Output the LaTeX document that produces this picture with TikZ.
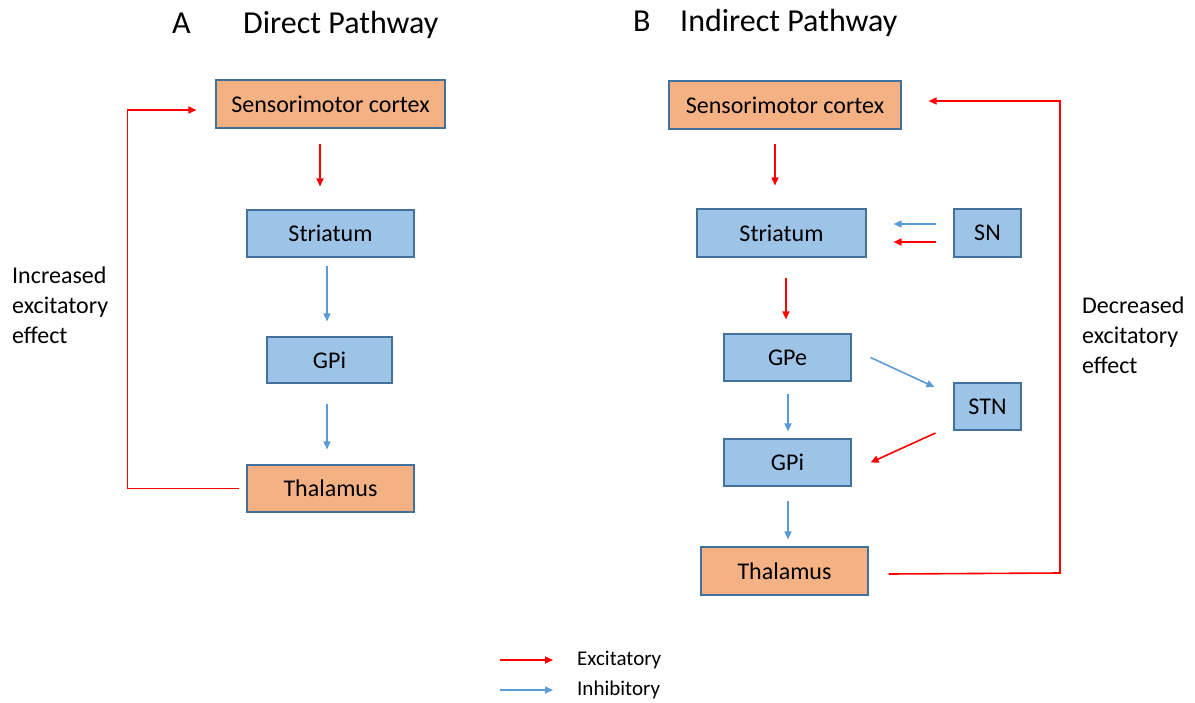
\documentclass[tikz,border=0pt]{standalone}
\usepackage{fontspec}
\setmainfont{Carlito}
\usetikzlibrary{arrows.meta}
\definecolor{boxline}{HTML}{41719C}
\definecolor{orangefill}{HTML}{F4B183}
\definecolor{bluefill}{HTML}{9DC3E6}
\definecolor{inhblue}{HTML}{5B9BD5}
\definecolor{excred}{HTML}{FF0000}
\begin{document}
\begin{tikzpicture}[x=1pt,y=-1pt,
  base/.style={draw=boxline, line width=1.1pt, inner sep=0pt, font=\fontsize{24}{28}\selectfont},
  obox/.style={base, fill=orangefill},
  bbox/.style={base, fill=bluefill},
  exc/.style={draw=excred, line width=1.6pt, -{Triangle[length=8pt,width=7pt]}},
  inh/.style={draw=inhblue, line width=1.6pt, -{Triangle[length=8pt,width=7pt]}},
  title/.style={font=\fontsize{32}{36}\selectfont, inner sep=0pt, anchor=base west},
  note/.style={font=\fontsize{24}{30}\selectfont, align=left, inner sep=0pt},
  legend/.style={font=\fontsize{21}{24}\selectfont, inner sep=0pt, anchor=west}]
\useasboundingbox (0,0) rectangle (1195,702);

% ---------- A: direct pathway ----------
\node[title] (tA) at (172,33.5) {A};
\node[title] (tDirect) at (243,33.5) {Direct Pathway};

\node[obox, minimum width=229pt, minimum height=48pt] (sc1) at (330.5,104) {Sensorimotor cortex};
\node[bbox, minimum width=167pt, minimum height=47pt] (str1) at (330.5,233.5) {Striatum};
\node[bbox, minimum width=125pt, minimum height=46pt] (gpi1) at (329.5,360) {GPi};
\node[obox, minimum width=167pt, minimum height=47pt] (thal1) at (330.5,488.5) {Thalamus};

\draw[exc, shorten <=15pt, shorten >=23pt] ([xshift=-10.5pt]sc1.south) -- ([xshift=-10.5pt]str1.north);
\draw[inh, shorten <=8pt, shorten >=15pt] ([xshift=-3.5pt]str1.south) -- ([xshift=-2.5pt]gpi1.north);
\draw[inh, shorten <=20pt, shorten >=15pt] ([xshift=-2.5pt]gpi1.south) -- ([xshift=-3.5pt]thal1.north);

\draw[exc] ([xshift=-7pt]thal1.west) -- ++(-112,0) |- ([xshift=-19pt,yshift=-6pt]sc1.west);
\node[note, anchor=west] (incr) at (12,305) {Increased\\excitatory\\effect};

% ---------- B: indirect pathway ----------
\node[title] (tB) at (633,31.5) {B};
\node[title] (tIndirect) at (680,31.5) {Indirect Pathway};

\node[obox, minimum width=232pt, minimum height=48pt] (sc2) at (785,105) {Sensorimotor cortex};
\node[bbox, minimum width=169pt, minimum height=48pt] (str2) at (781.5,233) {Striatum};
\node[bbox, minimum width=67pt, minimum height=48pt] (sn) at (987.5,233) {SN};
\node[bbox, minimum width=127pt, minimum height=47pt] (gpe) at (787.5,357.5) {GPe};
\node[bbox, minimum width=67pt, minimum height=47pt] (stn) at (987.5,406.5) {STN};
\node[bbox, minimum width=127pt, minimum height=47pt] (gpi2) at (787.5,462.5) {GPi};
\node[obox, minimum width=167pt, minimum height=48pt] (thal2) at (784.5,571) {Thalamus};

\draw[exc, shorten <=14pt, shorten >=23pt] ([xshift=-10pt]sc2.south) -- ([xshift=-6.5pt]str2.north);
\draw[inh, shorten <=17pt, shorten >=27pt] ([yshift=9pt]sn.west) -- ([yshift=9pt]str2.east);
\draw[exc, shorten <=17pt, shorten >=27pt] ([yshift=-9pt]sn.west) -- ([yshift=-9pt]str2.east);
\draw[exc, shorten <=20pt, shorten >=14pt] ([xshift=4.5pt]str2.south) -- ([xshift=-1.5pt]gpe.north);
\draw[inh] ([xshift=19pt]gpe.east) -- ([xshift=-19pt,yshift=19.5pt]stn.west);
\draw[inh, shorten <=12pt, shorten >=7pt] ([xshift=0.5pt]gpe.south) -- ([xshift=0.5pt]gpi2.north);
\draw[exc] ([xshift=-18pt,yshift=-26.5pt]stn.west) -- ([xshift=19pt]gpi2.east);
\draw[inh, shorten <=14pt, shorten >=7pt] ([xshift=0.5pt]gpi2.south) -- ([xshift=3.5pt]thal2.north);

\coordinate (fbB) at (1060,573);
\draw[exc] ([xshift=20pt,yshift=-3pt]thal2.east) -- (fbB) |- ([xshift=27pt,yshift=4pt]sc2.east);
\node[note, anchor=west] (decr) at (1082,335) {Decreased\\excitatory\\effect};

% ---------- legend ----------
\coordinate (lgE) at (500,660);
\coordinate (lgI) at (500,690);
\node[legend] (lgEt) at (577,660) {Excitatory};
\node[legend] (lgIt) at (577,690) {Inhibitory};
\draw[exc] (lgE) -- ++(53,0);
\draw[inh] (lgI) -- ++(53,0);
\end{tikzpicture}
\end{document}
